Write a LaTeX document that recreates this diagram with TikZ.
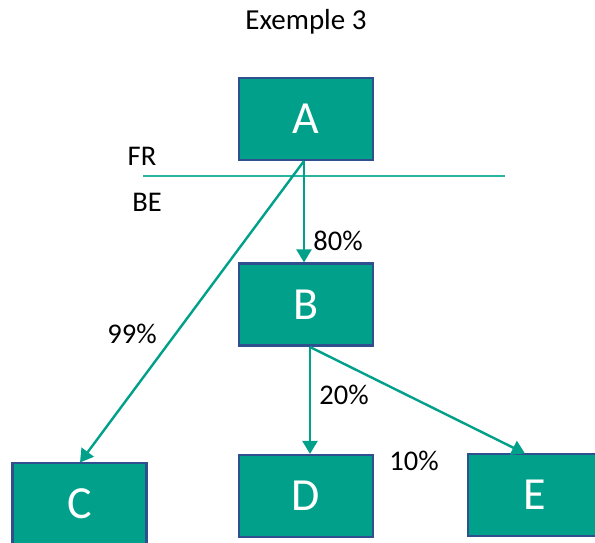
\documentclass[tikz,border=0pt]{standalone}
\usepackage{fontspec}
\setmainfont{Carlito}
\usetikzlibrary{arrows.meta}
\definecolor{boxfill}{HTML}{00A08A}
\definecolor{boxline}{HTML}{2F4F8F}
\definecolor{arrowcol}{HTML}{00A08A}
\definecolor{splitcol}{HTML}{2AB3A0}
\begin{document}
\begin{tikzpicture}[x=1pt,y=-1pt,
  entity/.style={draw=boxline,fill=boxfill,line width=2.2pt,minimum width=134pt,minimum height=82pt,inner sep=0pt,text=white,font=\fontsize{46}{46}\selectfont},
  link/.style={draw=arrowcol,line width=2.4pt,-{Triangle[length=13pt,width=15pt]}},
  pct/.style={font=\fontsize{28.5}{28.5}\selectfont,inner sep=0pt},
  side/.style={font=\fontsize{28.5}{28.5}\selectfont,inner sep=0pt}]
\useasboundingbox (0,0) rectangle (595,543);
\clip (0,0) rectangle (595,543);

\node[font=\fontsize{29}{29}\selectfont] (title) at (306,22) {Exemple 3};

% border line between the two countries
\coordinate (splitL) at (143,176);
\coordinate (splitR) at (505,176);
\draw[splitcol,line width=1.5pt] (splitL) -- (splitR);
\node[side] (fr) at (142,156) {FR};
\node[side] (be) at (147,202) {BE};

% entities
\node[entity] (A) at (306,119) {A};
\node[entity] (B) at (306,304.5) {B};
\node[entity] (C) at (79.5,504) {C};
\node[entity] (D) at (306,496) {D};
\node[entity] (E) at (535,495) {E};

% holdings
\coordinate (aout) at (304,161);
\coordinate (bout) at (310,347);
\coordinate (cin) at (80,462.5);
\coordinate (ein) at (525,453.5);
\draw[link] (aout) -- (aout |- B.north);
\draw[link] (aout) -- (cin);
\draw[link] (bout) -- (bout |- D.north);
\draw[link] (bout) -- (ein);

\node[pct] (p80) at (338,241) {80\%};
\node[pct] (p99) at (132,334) {99\%};
\node[pct] (p20) at (344,395) {20\%};
\node[pct] (p10) at (414,461) {10\%};
\end{tikzpicture}
\end{document}
